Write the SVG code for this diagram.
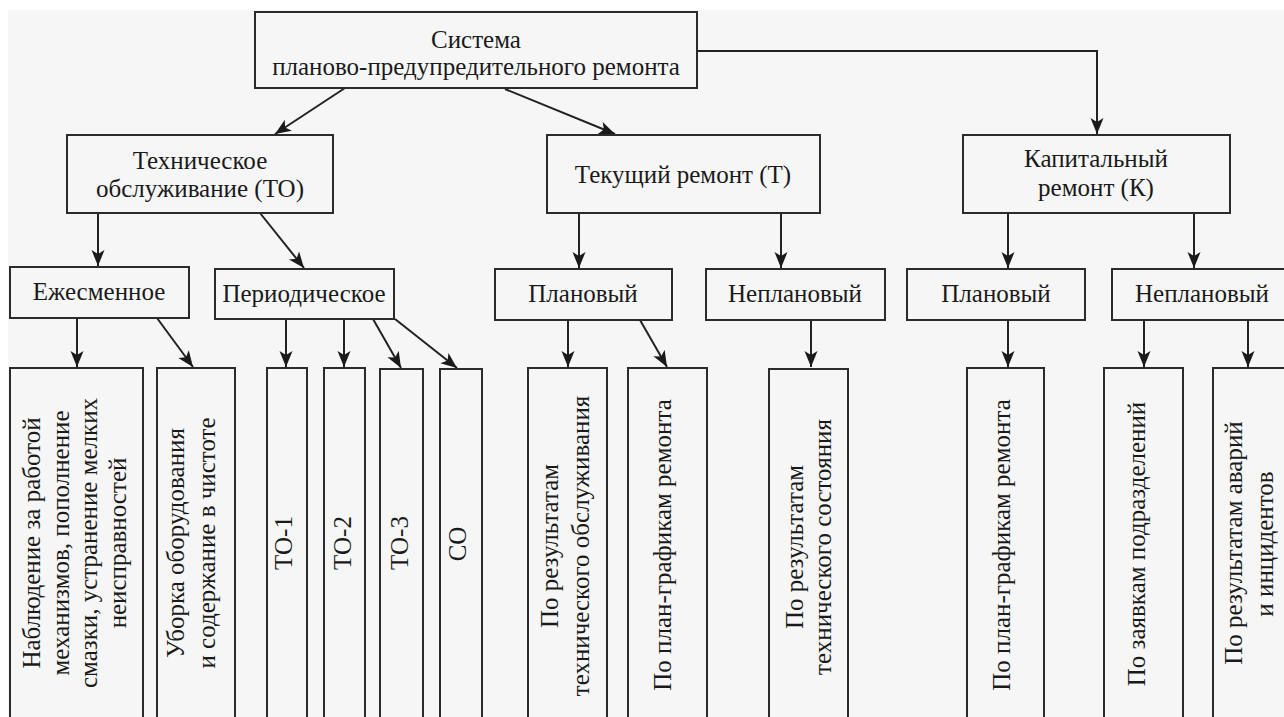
<svg xmlns="http://www.w3.org/2000/svg" width="1284" height="717" viewBox="0 0 1284 717">
<style>
.bg{fill:#f6f6f6}
.box{fill:#f6f6f6;stroke:#2b2b2b;stroke-width:2}
.t{font-family:"Liberation Serif","Times New Roman",serif;font-size:25px;fill:#1a1a1a;text-anchor:middle}
.c{fill:none;stroke:#222;stroke-width:2;marker-end:url(#ah)}
</style>
<defs>
<marker id="ah" markerUnits="userSpaceOnUse" markerWidth="17" markerHeight="14" refX="16" refY="6.5" orient="auto">
<path d="M0,0 L16,6.5 L0,13 L4,6.5 z" fill="#1a1a1a"/>
</marker>
</defs>
<rect x="0" y="0" width="1284" height="717" fill="#ffffff"/>
<rect class="bg" x="8" y="10" width="1276" height="707"/>

<g id="connectors">
<path class="c" d="M345,88 L275,134"/>
<path class="c" d="M505,89 L615,134"/>
<path class="c" d="M697,51 L1097,51 L1097,134"/>
<path class="c" d="M98,213 L98,266"/>
<path class="c" d="M260,213 L304,268"/>
<path class="c" d="M579,213 L579,268"/>
<path class="c" d="M781,213 L781,268"/>
<path class="c" d="M1008,213 L1008,268"/>
<path class="c" d="M1194,213 L1194,268"/>
<path class="c" d="M77,318 L77,367"/>
<path class="c" d="M157,318 L193,367"/>
<path class="c" d="M286,319 L286,367"/>
<path class="c" d="M344,319 L344,367"/>
<path class="c" d="M373,319 L401,368"/>
<path class="c" d="M395,319 L457,368"/>
<path class="c" d="M568,320 L568,367"/>
<path class="c" d="M640,320 L667,367"/>
<path class="c" d="M811,320 L811,367"/>
<path class="c" d="M1008,320 L1008,367"/>
<path class="c" d="M1144,320 L1144,367"/>
<path class="c" d="M1248,320 L1248,367"/>
</g>

<g id="n-system">
<rect class="box" x="255" y="12" width="442" height="76"/>
<text class="t" x="476" y="48">Система</text>
<text class="t" x="476" y="75">планово-предупредительного ремонта</text>
</g>
<g id="n-to">
<rect class="box" x="67" y="135" width="266" height="78"/>
<text class="t" x="200" y="169">Техническое</text>
<text class="t" x="200" y="197">обслуживание (ТО)</text>
</g>
<g id="n-tr">
<rect class="box" x="547" y="135" width="273" height="78"/>
<text class="t" x="683" y="183">Текущий ремонт (Т)</text>
</g>
<g id="n-kr">
<rect class="box" x="963" y="135" width="267" height="78"/>
<text class="t" x="1096" y="167">Капитальный</text>
<text class="t" x="1096" y="196">ремонт (К)</text>
</g>

<g id="n-ezh">
<rect class="box" x="10" y="267" width="179" height="51"/>
<text class="t" x="99" y="300">Ежесменное</text>
</g>
<g id="n-per">
<rect class="box" x="215" y="269" width="179" height="50"/>
<text class="t" x="304" y="302">Периодическое</text>
</g>
<g id="n-tr-plan">
<rect class="box" x="495" y="269" width="177" height="51"/>
<text class="t" x="583" y="302">Плановый</text>
</g>
<g id="n-tr-neplan">
<rect class="box" x="706" y="269" width="179" height="51"/>
<text class="t" x="795" y="302">Неплановый</text>
</g>
<g id="n-kr-plan">
<rect class="box" x="907" y="269" width="178" height="51"/>
<text class="t" x="996" y="302">Плановый</text>
</g>
<g id="n-kr-neplan">
<rect class="box" x="1112" y="269" width="180" height="51"/>
<text class="t" x="1202" y="302">Неплановый</text>
</g>

<g id="n-observe">
<rect class="box" x="10" y="368" width="133" height="360"/>
<text class="t" transform="translate(40,543) rotate(-90)">Наблюдение за работой</text>
<text class="t" transform="translate(69,543) rotate(-90)">механизмов, пополнение</text>
<text class="t" transform="translate(97,543) rotate(-90)">смазки, устранение мелких</text>
<text class="t" transform="translate(126,543) rotate(-90)">неисправностей</text>
</g>
<g id="n-clean">
<rect class="box" x="157" y="368" width="78" height="360"/>
<text class="t" transform="translate(184,543) rotate(-90)">Уборка оборудования</text>
<text class="t" transform="translate(215,543) rotate(-90)">и содержание в чистоте</text>
</g>
<g id="n-to1">
<rect class="box" x="267" y="368" width="40" height="360"/>
<text class="t" transform="translate(292,543) rotate(-90)">ТО-1</text>
</g>
<g id="n-to2">
<rect class="box" x="324" y="368" width="41" height="360"/>
<text class="t" transform="translate(351,543) rotate(-90)">ТО-2</text>
</g>
<g id="n-to3">
<rect class="box" x="380" y="369" width="43" height="360"/>
<text class="t" transform="translate(408,543) rotate(-90)">ТО-3</text>
</g>
<g id="n-so">
<rect class="box" x="440" y="369" width="42" height="360"/>
<text class="t" transform="translate(466,544) rotate(-90)">СО</text>
</g>
<g id="n-tr-byto">
<rect class="box" x="528" y="368" width="79" height="360"/>
<text class="t" transform="translate(558,546) rotate(-90)">По результатам</text>
<text class="t" transform="translate(589,546) rotate(-90)">технического обслуживания</text>
</g>
<g id="n-tr-bygraph">
<rect class="box" x="628" y="368" width="79" height="360"/>
<text class="t" transform="translate(671,545) rotate(-90)">По план-графикам ремонта</text>
</g>
<g id="n-tr-bystate">
<rect class="box" x="769" y="369" width="79" height="360"/>
<text class="t" transform="translate(803,547) rotate(-90)">По результатам</text>
<text class="t" transform="translate(831,547) rotate(-90)">технического состояния</text>
</g>
<g id="n-kr-bygraph">
<rect class="box" x="967" y="368" width="77" height="360"/>
<text class="t" transform="translate(1010,545) rotate(-90)">По план-графикам ремонта</text>
</g>
<g id="n-kr-byreq">
<rect class="box" x="1104" y="368" width="79" height="360"/>
<text class="t" transform="translate(1145,544) rotate(-90)">По заявкам подразделений</text>
</g>
<g id="n-kr-byacc">
<rect class="box" x="1213" y="368" width="79" height="360"/>
<text class="t" transform="translate(1242,543) rotate(-90)">По результатам аварий</text>
<text class="t" transform="translate(1273,544) rotate(-90)">и инцидентов</text>
</g>
</svg>
